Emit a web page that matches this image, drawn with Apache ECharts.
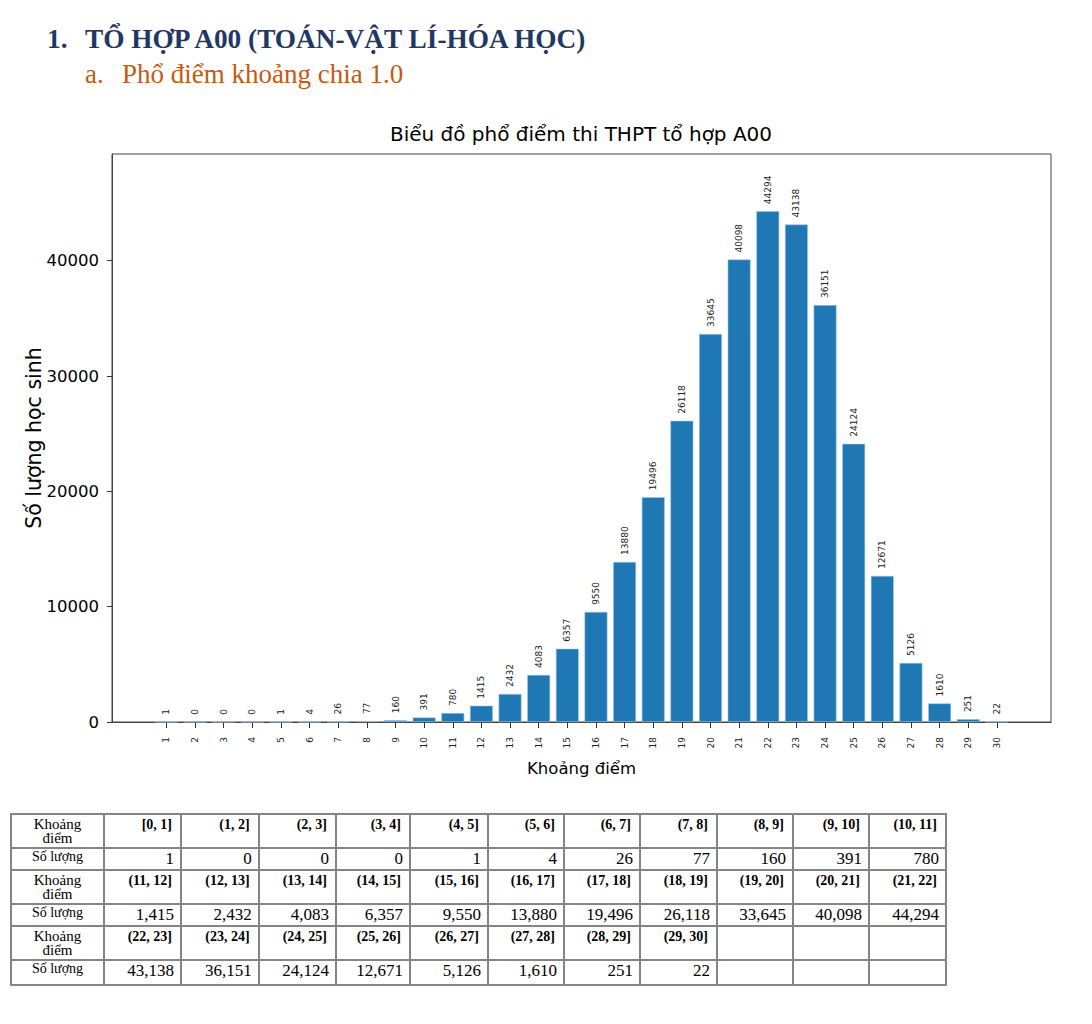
<!DOCTYPE html>
<html>
<head>
<meta charset="utf-8">
<script src="https://cdn.jsdelivr.net/npm/echarts@6/dist/echarts.min.js"></script>
<style>
html,body{margin:0;padding:0;background:#fff;width:1092px;height:1024px;overflow:hidden;position:relative}
#chart{position:absolute;left:0;top:0;width:1092px;height:800px}
.hd{position:absolute;font-family:"Liberation Serif","Times New Roman",serif;white-space:pre;line-height:1}
.h1{font-weight:bold;font-size:27.3px;color:#1F3864;top:26px}
.h2{font-size:27px;color:#C55A11;top:61px}
#tbl{position:absolute;left:10px;top:813px;border-collapse:collapse;table-layout:fixed;font-family:"Liberation Serif","Times New Roman",serif;color:#000}
#tbl td{border:2px solid #858585;padding:0;overflow:hidden}
#tbl td.lab{text-align:center;font-size:15px;line-height:14px;vertical-align:top;padding-top:2px}
#tbl td.lab2{text-align:center;font-size:14px;vertical-align:top}
#tbl td.rng{text-align:right;font-weight:bold;font-size:14px;vertical-align:top;padding-right:8px;padding-top:2px}
#tbl td.val{text-align:right;font-size:17px;vertical-align:top;padding-right:6px}
</style>
</head>
<body>
<div class="hd h1" style="left:47px">1.</div>
<div class="hd h1" style="left:85px">TỔ HỢP A00 (TOÁN-VẬT LÍ-HÓA HỌC)</div>
<div class="hd h2" style="left:85px">a.</div>
<div class="hd h2" style="left:122px">Phổ điểm khoảng chia 1.0</div>
<div id="chart"></div>
<table id="tbl"></table>
<script>
// ---- data ----
const scoreTicks = [1,2,3,4,5,6,7,8,9,10,11,12,13,14,15,16,17,18,19,20,21,22,23,24,25,26,27,28,29,30];
const counts = [1,0,0,0,1,4,26,77,160,391,780,1415,2432,4083,6357,9550,13880,19496,26118,33645,40098,44294,43138,36151,24124,12671,5126,1610,251,22];
const ranges = ["[0, 1]","(1, 2]","(2, 3]","(3, 4]","(4, 5]","(5, 6]","(6, 7]","(7, 8]","(8, 9]","(9, 10]","(10, 11]",
  "(11, 12]","(12, 13]","(13, 14]","(14, 15]","(15, 16]","(16, 17]","(17, 18]","(18, 19]","(19, 20]","(20, 21]","(21, 22]",
  "(22, 23]","(23, 24]","(24, 25]","(25, 26]","(26, 27]","(27, 28]","(28, 29]","(29, 30]"];
const yTicks = [0,10000,20000,30000,40000];
const chartTitle = "Biểu đồ phổ điểm thi THPT tổ hợp A00";
const xName = "Khoảng điểm";
const yName = "Số lượng học sinh";
const rowLabel1 = "Khoảng<br>điểm";
const rowLabel2 = "Số lượng";

// ---- chart ----
const chart = echarts.init(document.getElementById('chart'), null, {renderer:'svg'});
const font = 'DejaVu Sans';
chart.setOption({
  animation:false,
  title:{text:chartTitle, left:581, top:124, padding:0, textAlign:'center',
    textStyle:{fontFamily:font, fontSize:20, fontWeight:'normal', color:'#000'}},
  graphic:[{type:'text', x:34, y:438, rotation:Math.PI/2,
    style:{text:yName, align:'center', verticalAlign:'middle', fontFamily:font, fontSize:20.5, fill:'#000'}}],
  grid:{left:112, top:154, width:939, height:568, show:true, borderColor:'#444', borderWidth:1},
  xAxis:{type:'value', min:-0.9, max:31.89,
    name:xName, nameLocation:'middle', nameGap:38,
    nameTextStyle:{fontFamily:font, fontSize:16.5, color:'#000'},
    axisLine:{onZero:false, lineStyle:{color:'#444', width:1}},
    axisTick:{customValues:scoreTicks, length:6, lineStyle:{color:'#333'}},
    axisLabel:{customValues:scoreTicks, rotate:90, fontSize:9, margin:15, fontFamily:font, color:'#222'},
    splitLine:{show:false}},
  yAxis:{type:'value', min:0, max:49250,
    axisLine:{show:true, onZero:false, lineStyle:{color:'#444', width:1}},
    axisTick:{show:true, customValues:yTicks, length:5, lineStyle:{color:'#333'}},
    axisLabel:{customValues:yTicks, fontSize:16.5, margin:13, fontFamily:font, color:'#000', formatter:v=>String(v)},
    splitLine:{show:false}},
  series:[{type:'bar', data:scoreTicks.map((x,i)=>[x,counts[i]]), barWidth:22.9,
    itemStyle:{color:'#1f77b4', borderColor:'#a3c8e3', borderWidth:0.6},
    label:{show:true, position:'top', rotate:90, align:'left', verticalAlign:'middle', distance:7,
      fontSize:9, fontFamily:font, color:'#222', formatter:p=>String(p.value[1])}}]
});

// ---- table ----
const colW = [93,77,77.7,77.3,74,78,76,76,77,76,76,77];
const rowH = [34,20,34,21,34,25];
const tbl = document.getElementById('tbl');
let html = '<colgroup>' + colW.map(w=>'<col style="width:'+w+'px">').join('') + '</colgroup>';
for (let r=0;r<3;r++){
  let a = '<tr style="height:'+rowH[2*r]+'px"><td class="lab">'+rowLabel1+'</td>';
  let b = '<tr style="height:'+rowH[2*r+1]+'px"><td class="lab2">'+rowLabel2+'</td>';
  for (let c=0;c<11;c++){
    const i = r*11+c;
    a += '<td class="rng">'+(i<ranges.length?ranges[i]:'')+'</td>';
    b += '<td class="val">'+(i<counts.length?counts[i].toLocaleString('en-US'):'')+'</td>';
  }
  html += a+'</tr>'+b+'</tr>';
}
tbl.innerHTML = html;
</script>
</body>
</html>
